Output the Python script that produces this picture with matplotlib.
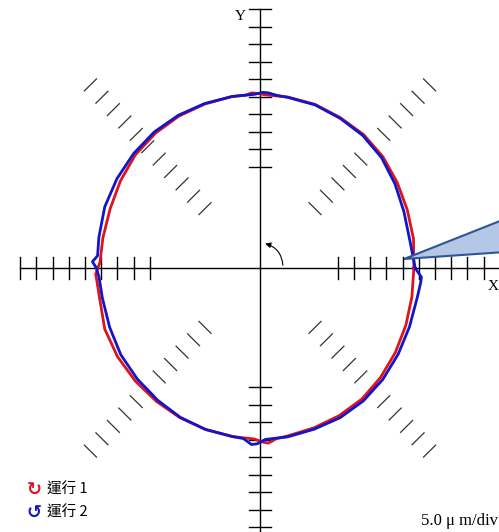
import numpy as np
import matplotlib.pyplot as plt
import matplotlib.patches as patches

# Datos: radio medido (en divisiones, 5.0 um/div) por angulo
R_NOMINAL = 9.8

ang_run1 = [0, 10, 20, 30, 40, 50, 60, 70, 80, 88, 91, 93, 95, 100, 110, 120, 130, 140,
            150, 160, 170, 178, 182, 184, 190, 200, 210, 220, 230, 240, 250, 260, 268,
            271, 273, 276, 280, 290, 300, 310, 320, 330, 340, 350, 360]
r_run1 = [9.50, 9.62, 9.68, 9.78, 9.90, 9.95, 9.92, 9.95, 9.92, 9.90, 9.98, 10.02, 9.92,
          9.95, 9.97, 10.02, 10.05, 10.05, 9.95, 9.85, 9.85, 9.88, 10.15, 10.10, 10.05,
          10.20, 10.15, 10.05, 9.95, 9.88, 9.82, 9.78, 9.78, 9.95, 10.02, 9.80, 9.75,
          9.72, 9.75, 9.78, 9.72, 9.65, 9.58, 9.52, 9.50]

ang_run2 = [0, 10, 20, 30, 40, 50, 60, 70, 80, 84, 87, 89, 92, 100, 110, 120, 130, 140,
            150, 160, 170, 176, 178, 180, 183, 190, 200, 210, 220, 230, 240, 250, 260,
            264, 267, 269, 272, 280, 290, 300, 310, 320, 330, 340, 350, 355, 357, 359, 360]
r_run2 = [9.58, 9.38, 9.45, 9.62, 9.80, 9.88, 9.88, 9.92, 9.90, 9.92, 10.02, 10.04, 9.93,
          9.95, 10.00, 10.08, 10.15, 10.18, 10.20, 10.20, 10.10, 10.05, 10.35, 10.10,
          9.95, 9.88, 9.88, 9.92, 9.88, 9.85, 9.85, 9.82, 9.78, 9.80, 10.10, 10.05, 9.80,
          9.80, 9.80, 9.88, 9.92, 9.90, 9.85, 9.82, 9.85, 9.95, 9.98, 9.70, 9.58]

leyendas = ["運行 1", "運行 2"]
colores = ["#dc141e", "#1414c8"]

# marcas de los ejes, relativas al radio nominal
k_izq = list(range(-3, 6))
k_der = list(range(-5, 6))
k_arr = list(range(-4, 6))
k_aba = list(range(-3, 6))
k_diag = list(range(-5, 6))

fig = plt.figure(figsize=(4.99, 5.32), dpi=100)
ax = fig.add_axes([0, 0, 1, 1])
ax.set_xlim(-260 / 16.2, 239 / 16.2)
ax.set_ylim(-264 / 17.5, 268 / 17.5)
ax.axis("off")

lw_eje = 1.0
# ejes
ax.plot([-(R_NOMINAL + 5), 20], [0, 0], color="black", lw=lw_eje, zorder=2)
ax.plot([0, 0], [R_NOMINAL + 5, -20], color="black", lw=lw_eje, zorder=2)
tx, ty = 0.68, 0.63
for k in k_izq:
    x = -(R_NOMINAL + k)
    ax.plot([x, x], [-ty, ty], color="black", lw=lw_eje, zorder=2)
for k in k_der:
    x = R_NOMINAL + k
    ax.plot([x, x], [-ty, ty], color="black", lw=lw_eje, zorder=2)
for k in k_arr:
    y = R_NOMINAL + k
    ax.plot([-tx, tx], [y, y], color="black", lw=lw_eje, zorder=2)
for k in k_aba:
    y = -(R_NOMINAL + k)
    ax.plot([-tx, tx], [y, y], color="black", lw=lw_eje, zorder=2)

# rayitas en las diagonales
for a in [45, 135, 225, 315]:
    c, s = np.cos(np.radians(a)), np.sin(np.radians(a))
    for k in k_diag:
        r = R_NOMINAL + k
        cx, cy = r * c, r * s
        dx, dy = -s * 0.37 * np.sqrt(2), c * 0.34 * np.sqrt(2)
        ax.plot([cx - dx, cx + dx], [cy - dy, cy + dy], color="#333333", lw=0.9, zorder=1)

# curvas medidas
for ang, rr, col in [(ang_run1, r_run1, colores[0]), (ang_run2, r_run2, colores[1])]:
    t = np.radians(ang)
    rr = np.array(rr)
    ax.plot(rr * np.cos(t), rr * np.sin(t), color=col, lw=2.0, zorder=3)

# flecha de sentido en el centro
ax.annotate("", xy=(0.15, 1.43), xytext=(1.42, 0),
            arrowprops=dict(arrowstyle="-|>", connectionstyle="arc3,rad=0.4",
                            color="black", lw=0.8, mutation_scale=8), zorder=4)

serif = ["Liberation Serif", "DejaVu Serif"]
fig.text(240 / 499, 1 - 16 / 532, "Y", family=serif, fontsize=11, ha="center", va="center")
fig.text(493 / 499, 1 - 287 / 532, "X", family=serif, fontsize=11, ha="center", va="center")
fig.text(421 / 499, 1 - 521 / 532, "5.0 μ m/div", family=serif, fontsize=12,
         ha="left", va="center")

# leyenda
iconos = ["↻", "↺"]
for i, (txt, col) in enumerate(zip(leyendas, colores)):
    yy = 1 - (490 + 23 * i) / 532
    fig.text(34 / 499, yy, iconos[i], family="DejaVu Sans", fontsize=13, fontweight="bold",
             color=col, ha="center", va="center")
    fig.text(47 / 499, yy, txt, family=["Noto Sans CJK TC", "DejaVu Sans"], fontsize=10.5,
             ha="left", va="center")

# globo de llamada
pts = [(404, 259), (505, 219), (505, 252)]
poly = patches.Polygon([(x / 499, 1 - y / 532) for x, y in pts], closed=True,
                       facecolor="#b4c7e7", edgecolor="#2f5597", lw=1.5,
                       transform=fig.transFigure, zorder=5)
fig.patches.append(poly)

plt.savefig("out.png", dpi=100)
plt.close()
